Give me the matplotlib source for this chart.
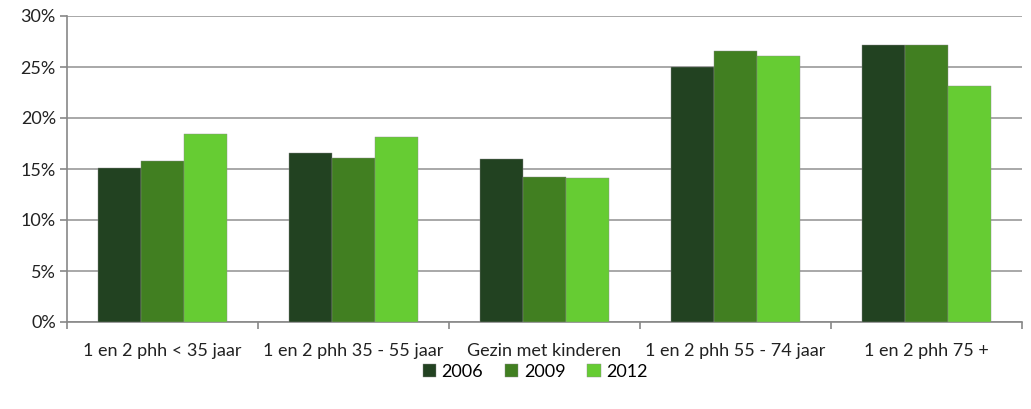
import matplotlib
matplotlib.use("Agg")
import matplotlib.pyplot as plt
import numpy as np
from matplotlib.ticker import FixedLocator

categories = ["1 en 2 phh < 35 jaar", "1 en 2 phh 35 - 55 jaar", "Gezin met kinderen",
              "1 en 2 phh 55 - 74 jaar", "1 en 2 phh 75 +"]
years = ["2006", "2009", "2012"]
v2006 = [15.1, 16.6, 16.0, 25.0, 27.2]
v2009 = [15.8, 16.1, 14.2, 26.6, 27.2]
v2012 = [18.4, 18.1, 14.1, 26.1, 23.1]
yticks = [0, 5, 10, 15, 20, 25, 30]
colors = ["#224221", "#417F21", "#66CC33"]

plt.rcParams['font.family'] = ['Lato', 'DejaVu Sans']
FS = 13
fig = plt.figure(figsize=(10.31, 4.09), dpi=100)
ax = fig.add_axes([67/1031, 1 - 322/409, (1022-67)/1031, (322-16)/409])

x = np.arange(len(categories))
w = 0.225
for i, (vals, c, lab) in enumerate(zip([v2006, v2009, v2012], colors, years)):
    ax.bar(x + (i - 1) * w, vals, width=w, color=c, label=lab, edgecolor="#8a8a8a", linewidth=0.3, zorder=3)

ax.set_xlim(-0.5, len(categories) - 0.5)
ax.set_ylim(0, 30)
ax.set_yticks(yticks)
ax.set_yticklabels([f"{t}%" for t in yticks], fontsize=FS, color="#222222")
ax.yaxis.grid(True, color="#999999", linewidth=1.2, zorder=0)
ax.set_xticks(x)
ax.set_xticklabels(categories, fontsize=FS, color="#222222")
ax.tick_params(axis="x", length=0, pad=15)
ax.xaxis.set_minor_locator(FixedLocator(np.arange(-0.5, len(categories), 1.0)))
ax.tick_params(axis="x", which="minor", length=5, color="#888888", width=1.2)
ax.tick_params(axis="y", length=5, color="#888888", width=1.2, pad=3)
for s in ["top", "right"]:
    ax.spines[s].set_visible(False)
for s in ["left", "bottom"]:
    ax.spines[s].set_color("#888888")
    ax.spines[s].set_linewidth(1.2)

leg = ax.legend(loc="center", ncol=3, frameon=False,
                fontsize=FS, handlelength=0.75, handleheight=0.75, handletextpad=0.3, columnspacing=1.2)
leg.set_bbox_to_anchor((535/1031, 1 - 372/409), transform=fig.transFigure)

fig.savefig("out.png", dpi=100)
